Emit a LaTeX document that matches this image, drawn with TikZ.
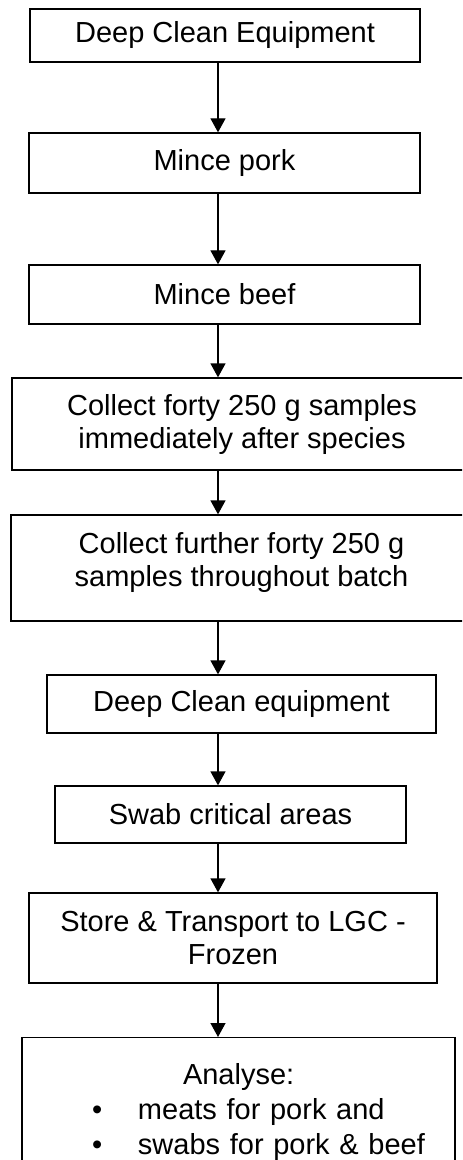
\documentclass[tikz,border=0pt]{standalone}
\usepackage{fontspec}
\setmainfont{Liberation Sans}
\usetikzlibrary{arrows.meta}

\begin{document}
\begin{tikzpicture}[x=0.5pt,y=-0.5pt,font=\fontsize{14.5}{16.5}\selectfont,
  box/.style={draw,line width=0.65pt,align=center,inner sep=0pt},
  flow/.style={line width=0.65pt,-{Triangle[length=7pt,width=7.5pt]}}]
  % sheet: 1 unit = 1 px of the 462 x 1160 page, y runs downwards
  \useasboundingbox (0,0) rectangle (462,1160);
  \clip (0,0) rectangle (462,1160);
  \coordinate (ax) at (218,0); % every arrow runs down this line
  % process steps
  \node[box,minimum width=195pt,minimum height=26.5pt] (clean1) at (225,35.5) {Deep Clean Equipment};
  \node[box,minimum width=195.5pt,minimum height=30pt] (pork) at (224.5,163) {Mince pork};
  \node[box,minimum width=195.5pt,minimum height=29.5pt] (beef) at (224.5,294.5) {Mince beef};
  \node[box,minimum width=230pt,minimum height=46pt] (collect1) at (242,424)
    {Collect forty 250 g samples\\immediately after species};
  \node[box,minimum width=230.5pt,minimum height=53pt] (collect2) at (241.5,568)
    {Collect further forty 250 g\\samples throughout batch\\[-8pt]\mbox{}};
  \node[box,minimum width=194.5pt,minimum height=29pt] (clean2) at (241.5,704) {Deep Clean equipment};
  \node[box,minimum width=175.5pt,minimum height=28.5pt] (swab) at (230.5,814.5) {Swab critical areas};
  \node[box,minimum width=204pt,minimum height=45pt] (store) at (233,938)
    {Store \& Transport to LGC -\\Frozen};
  % last box runs off the foot of the page
  \node[box,anchor=north,inner ysep=13pt,text width=216.5pt,align=left,
        font=\fontsize{14.5}{17.5}\selectfont] (analyse) at (238.5,1037)
    {\hspace*{80.5pt}Analyse:\\
     \hspace*{35pt}\makebox[23pt][l]{\textbullet}meats for pork and\\
     \hspace*{35pt}\makebox[23pt][l]{\textbullet}swabs for pork \& beef};
  % connectors
  \foreach \a/\b in {clean1/pork,pork/beef,beef/collect1,collect1/collect2,
                     collect2/clean2,clean2/swab,swab/store,store/analyse}
    \draw[flow] (\a.south -| ax) -- (\b.north -| ax);
\end{tikzpicture}
\end{document}
